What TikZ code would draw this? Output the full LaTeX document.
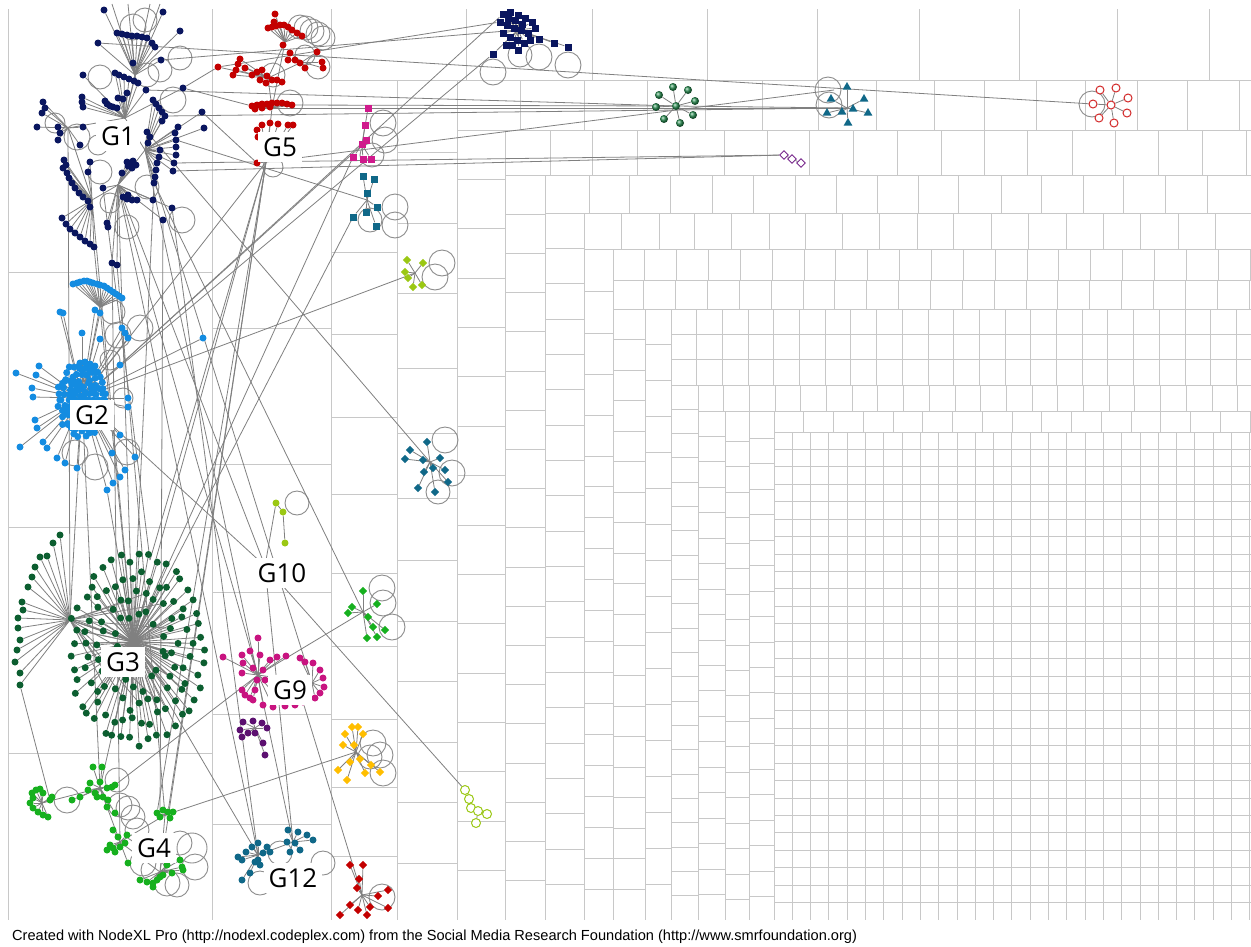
\documentclass[tikz,border=0pt]{standalone}
\usepackage{fontspec}
\newfontfamily\glfont{Open Sans}
\newfontfamily\ftfont{Liberation Sans}
\usetikzlibrary{shapes.geometric}
\definecolor{gridc}{RGB}{200,200,200}
\definecolor{edgec}{RGB}{128,128,128}
\definecolor{loopg}{RGB}{140,140,140}
\definecolor{cNavy}{RGB}{10,22,95}
\definecolor{cRed}{RGB}{195,0,0}
\definecolor{cBlue}{RGB}{20,140,225}
\definecolor{cDkGreen}{RGB}{12,94,48}
\definecolor{cGreen}{RGB}{22,176,30}
\definecolor{cMag}{RGB}{200,20,128}
\definecolor{cPurp}{RGB}{92,16,112}
\definecolor{cTeal}{RGB}{16,104,136}
\definecolor{cLime}{RGB}{155,200,20}
\definecolor{cPink}{RGB}{208,26,140}
\definecolor{cYel}{RGB}{255,190,0}
\definecolor{cSea}{RGB}{40,140,80}
\definecolor{cORed}{RGB}{210,40,40}
\definecolor{cOPurp}{RGB}{120,40,140}
\pgfdeclarelayer{gridl}
\pgfdeclarelayer{edgel}
\pgfsetlayers{gridl,edgel,main}
\tikzset{
  gridln/.style={draw=gridc, line width=1pt},
  lnk/.style={draw=edgec, line width=0.8pt},
  selfl/.style={draw=loopg, line width=0.9pt},
  nd/.style={circle, inner sep=0pt, minimum size=7pt, fill=#1, draw=none},
  sq/.style={rectangle, inner sep=0pt, minimum size=7pt, fill=#1, draw=none},
  dia/.style={diamond, inner sep=0pt, minimum size=8.5pt, fill=#1, draw=none},
  tri/.style={regular polygon, regular polygon sides=3, inner sep=0pt, minimum size=10pt, fill=#1, draw=none},
  odot/.style={circle, inner sep=0pt, minimum size=8pt, draw=#1, line width=1pt, fill=white},
  odia/.style={diamond, inner sep=0pt, minimum size=9pt, draw=#1, line width=0.9pt, fill=white},
  ballnd/.style={circle, inner sep=0pt, minimum size=8pt, ball color=#1},
  glab/.style={fill=white, inner sep=5pt, text=black, font=\glfont\fontsize{26}{26}\selectfont}
}
\newcommand{\fannodes}[3]{\foreach \xq/\yq [count=\iq] in #3 {\node[#1] (#2\iq) at (\xq,\yq) {};}}
\newcommand{\fanedges}[3]{\foreach \xq/\yq [count=\iq] in #3 {\draw[lnk] (#1) -- (#2\iq);}}
% ---- node lists ----
\def\LgOneA{117/33,122/34,127/35,132/36,137/36,142/37,147/38,152/43,155/47,98/43,161/60,133/63,104/10,163/12,180/31}
\def\LgOneB{83/75,115/73,119/75,124/77,129/79,134/81,138/83,146/90,183/88,127/93,118/98,123/99,82/97,82/102,83/107,107/104,110/106,113/107,117/108,105/101}
\def\LgOneC{153/100,156/104,159/108,162/112,165/116,162/121,202/112,204/128,178/127,147/132,150/137,148/143,175/133,176/140,176/147,176/155,174/163,173/171,160/150,159/157,157/163,156/170,155/177,154/183}
\def\LgOneD{43/102,42/113,37/127,58/127,60/133,58/140,80/145,83/127,45/108}
\def\LgOneE{130/163,133/161,127/162,136/165,128/166,132/168,122/173,123/197,127/199,132/200,137/200,128/195,103/188,153/200,172/208,163/220,107/223,108/227,112/263,117/265}
\def\LgOneF{62/218,66/224,70/229,75/233,80/237,85/241,90/244,94/247,67/173,69/178,72/183,75/188,79/193,83/197,88/201,64/160,66/165,63/168,90/162,88/172,90/207}
\def\LgFiveA{268/28,272/27,276/26,280/25,284/25,288/27,292/30,297/33,302/36,283/45,275/14,274/22}
\def\LgFiveB{218/67,233/75,240/59,238/64,236/70,252/75,257/72,262/70,267/76,272/80,277/80,282/82,260/80,266/83,245/68}
\def\LgFiveC{290/53,288/60,295/60,300/63,305/68,317/52,322/62,323/68}
\def\LgFiveD{252/106,257/105,262/104,267/104,272/103,277/103,282/103,287/104,292/105,255/109,262/108,270/107}
\def\LgFiveE{257/130,258/137,257/163,262/125,270/123,278/124,288/125,293/125}
\def\LgTwoA{73/284,77/283,80/282,84/281,87/281,90/282,93/283,97/284,100/285,104/286,107/288,110/290,113/292,116/294,119/296,122/298}
\def\LgTwoC{60/312,63/313,82/333,95/310,100/313,100/339,122/328,125/333,128/338,16/373,39/366,36/375,32/388,33/397,120/365,128/398,128/407,35/420,37/428,20/447,43/442,47/448,57/458,65/463,77/468,112/453,107/490,113/483,120/477,125/470,120/435,135/457,80/363,85/362,90/364,95/366,203/338}
\def\LgThreeA{60/535,53/543,47/556,40/557,35/567,32/577,28/587,22/602,23/610,18/618,18/628,20/640,17/650,15/662,20/673,20/685}
\def\LgFourA{32/793,33/798,30/803,33/808,38/812,43/815,48/817,50/800,52/797,43/793,40/789,36/790}
\def\LgFourB{93/767,102/767,88/790,95/793,100/782,107/788,112/787,115/785,97/797,103/797,108/800,107/807,115/813,80/797,72/800,90/783}
\def\LgFourC{113/830,118/837,127/835,110/845,107/850,113/848,120/847,125/843,128/863,115/852}
\def\LgFourD{157/813,163/810,168/812,173/812,160/817,170/818}
\def\LgFourE{180/860,182/867,183/870,140/880,147/882,153/883,157/880,160/877,163/875,153/887,172/873,167/865}
\def\LgNineA{223/657,258/638,242/655,250/651,260/655,270/660,277/657,286/656,243/663,242/673,242/690,245/695,250/698,253/700,253/668,263/670,257/680,265/680,255/690,263/705,273/707,285/706}
\def\LgNineB{295/705,303/702,305/662,313/663,320/670,323/678,324/687,320/693,315/698,300/658}
\def\LPurp{243/722,253/721,262/723,240/730,248/733,255/733,267/728,263/743,265/755,242/737}
\def\LgTwelveA{238/857,242/860,252/847,258/843,267/847,270/852,258/860,260/865,255/862,263/853,250/873,242/880,246/852}
\def\LgTwelveB{288/830,298/832,307/835,313/840,295/843,290/852,287/842,300/850}
\def\LPk{368/108,365/125,366/140,362/144,353/157,363/159,371/159}
\def\LTs{363/176,374/179,367/193,377/207,366/212,353/217,376/226}
\def\LLd{407/260,423/263,405/272,408/278,413/287,422/285}
\def\LTd{427/442,410/450,405/459,423/460,440/458,433/468,445/470,424/472,418/488,435/492,448/482}
\def\LGd{363/591,352/607,348/613,377/604,368/617,373/627,385/630,377/637,367/638}
\def\LYd{345/734,352/727,358/727,363/734,343/745,354/745,350/762,360/759,371/765,380/772,365/773,338/770,347/780}
\def\LRd{350/865,363/865,359/879,357/888,350/905,358/910,370/907,378/896,388/890,388/908,340/915,367/915}
\def\LNs{503/14,510/12,518/15,525/18,532/22,500/22,507/25,514/28,521/30,528/33,535/28,503/33,510/37,517/40,524/43,530/40,515/20,522/24,508/18,512/45,518/50,539/39,554/43,568/47,493/54,506/45}
\def\LSev{673/87,688/90,695/101,693/115,680/123,664/119,656/107,659/95}
\def\LEig{847/87,831/99,864/99,827/113,842/112,853/109,868/113,848/123}
\def\LOr{1100/90,1116/88,1128/98,1127/113,1114/123,1099/118,1093/104}
\begin{document}
\begin{tikzpicture}[x=1pt,y=-1pt]
\useasboundingbox (0,0) rectangle (1251,946);
% ================= GRID =================
\begin{pgfonlayer}{gridl}
\fill[white] (0,0) rectangle (1251,946);
\begin{scope}
\clip (7,9) rectangle (1251,919.4);
\begin{scope}[gridln]
\draw (8,8) -- (8,920);
\draw (212,8) -- (212,920);
\foreach \yq in {272,527,753} \draw (8,\yq) -- (212,\yq);
\draw (331,8) -- (331,920);
\foreach \yq in {328,464,592,714,824} \draw (212,\yq) -- (331,\yq);
\draw (331,80) -- (1256,80);
\foreach \xq in {466,592,707,817,919,1019,1117,1209} \draw (\xq,8) -- (\xq,80);
\draw (397,80) -- (397,920);
\foreach \yq in {252,334,417,494,573,646,719,787,856} \draw (331,\yq) -- (397,\yq);
\draw (457,80) -- (457,920);
\foreach \yq in {152,223,293,368,433,498,560,621,681,742,802,863} \draw (397,\yq) -- (457,\yq);
\draw (457,130) -- (1256,130);
\foreach \xq in {520,584,647,705,762,818,876,934,984,1036,1085,1137,1187,1239} \draw (\xq,80) -- (\xq,130);
\draw (505,130) -- (505,920);
\foreach \k in {1,...,15} \draw (457,{130+\k*790/16}) -- (505,{130+\k*790/16});
\draw (505,175) -- (1256,175);
\foreach \xq in {550,592,637,679,724,767,809,853,897,941,984,1027,1072,1115,1158,1202,1246} \draw (\xq,130) -- (\xq,175);
\draw (545,175) -- (545,920);
\foreach \k in {1,...,18} \draw (505,{175+\k*745/19}) -- (545,{175+\k*745/19});
\draw (545,213) -- (1256,213);
\foreach \xq in {589,629,670,712,753,795,836,877,918,958,1001,1041,1083,1123,1165,1207} \draw (\xq,175) -- (\xq,213);
\draw (584,213) -- (584,920);
\foreach \k in {1,...,19} \draw (545,{213+\k*707/20}) -- (584,{213+\k*707/20});
\draw (584,249) -- (1256,249);
\foreach \xq in {621,659,694,731,769,805,842,879,917,953,991,1028,1066,1103,1140,1178,1215} \draw (\xq,213) -- (\xq,249);
\draw (613,249) -- (613,920);
\foreach \yq in {291,333,374,415,456} \draw (584,\yq) -- (613,\yq);
\foreach \k in {1,...,14} \draw (584,{456+\k*464/15}) -- (613,{456+\k*464/15});
\draw (613,280) -- (1256,280);
\draw (613,309) -- (1256,309);
\foreach \k in {1,...,20} \draw ({613+\k*31.85},249) -- ({613+\k*31.85},280);
\foreach \k in {1,...,20} \draw ({612+\k*31.85},280) -- ({612+\k*31.85},309);
\draw (645,309) -- (645,920);
\foreach \k in {1,...,19} \draw (613,{309+\k*611/20}) -- (645,{309+\k*611/20});
\draw (671,309) -- (671,920);
\foreach \k in {1,...,16} \draw (645,{309+\k*611/17}) -- (671,{309+\k*611/17});
\foreach \yq in {334,359,385} \draw (671,\yq) -- (1256,\yq);
\foreach \k in {1,...,23} \draw ({671+\k*25.7},309) -- ({671+\k*25.7},385);
\draw (698,385) -- (698,920);
\foreach \k in {1,...,21} \draw (671,{385+\k*535/22}) -- (698,{385+\k*535/22});
\draw (698,411) -- (1256,411);
\foreach \k in {1,...,22} \draw ({698+\k*25.7},385) -- ({698+\k*25.7},411);
\draw (725,411) -- (725,920);
\draw (749,411) -- (749,920);
\draw (774,411) -- (774,920);
\foreach \k in {1,...,19} \draw (698,{411+\k*25.45}) -- (725,{411+\k*25.45});
\foreach \k in {1,...,19} \draw (725,{416+\k*25.45}) -- (749,{416+\k*25.45});
\foreach \k in {1,...,19} \draw (749,{413+\k*25.45}) -- (774,{413+\k*25.45});
\draw (774,432) -- (1256,432);
\foreach \k in {1,...,16} \draw ({774+\k*29.75},411) -- ({774+\k*29.75},432);
\foreach \k in {1,...,26} \draw ({774+\k*18.3},432) -- ({774+\k*18.3},920);
\foreach \k in {1,...,27} \draw (774,{432+\k*17.43}) -- (1256,{432+\k*17.43});
\end{scope}
\end{scope}
\end{pgfonlayer}
% ================= HUBS =================
\coordinate (g1hA) at (135,75);
\coordinate (g1hB) at (125,118);
\coordinate (g1hC) at (145,150);
\coordinate (g1hD) at (68,128);
\coordinate (g1hE) at (118,185);
\coordinate (g1hF) at (92,200);
\coordinate (g5h1) at (285,42);
\coordinate (g5h2) at (268,78);
\coordinate (g5h3) at (302,62);
\coordinate (g5h4) at (272,108);
\coordinate (g5h5) at (266,162);
\coordinate (g2h1) at (100,307);
\coordinate (g2h) at (82,398);
\coordinate (g3hL) at (70,620);
\coordinate (g3hM) at (133,642);
\coordinate (g3top) at (150,560);
\coordinate (g4h1) at (42,803);
\coordinate (g4h2) at (100,788);
\coordinate (g4h3) at (120,842);
\coordinate (g4h4) at (165,815);
\coordinate (g4h5) at (160,872);
\coordinate (g9h) at (258,675);
\coordinate (g9h2) at (312,683);
\coordinate (pph) at (255,728);
\coordinate (g12h) at (258,855);
\coordinate (g12h2) at (293,842);
\coordinate (g10x) at (265,566);
\coordinate (pkh) at (362,145);
\coordinate (tsh) at (367,200);
\coordinate (ldh) at (415,273);
\coordinate (tdh) at (430,462);
\coordinate (gdh) at (363,612);
\coordinate (ydh) at (356,752);
\coordinate (rdh) at (362,895);
\coordinate (nsh) at (518,30);
\coordinate (g8h) at (847,108);
\coordinate (g8l) at (834,90);
\coordinate (t1) at (112,4);
\coordinate (t2) at (128,4);
\coordinate (t3) at (150,4);
\coordinate (t4) at (160,4);
% ================= NODES =================
\fannodes{nd=cNavy}{g1a}{\LgOneA}
\fannodes{nd=cNavy}{g1b}{\LgOneB}
\fannodes{nd=cNavy}{g1c}{\LgOneC}
\fannodes{nd=cNavy}{g1d}{\LgOneD}
\fannodes{nd=cNavy}{g1e}{\LgOneE}
\fannodes{nd=cNavy}{g1f}{\LgOneF}
\fannodes{nd=cRed}{g5a}{\LgFiveA}
\fannodes{nd=cRed}{g5b}{\LgFiveB}
\fannodes{nd=cRed}{g5c}{\LgFiveC}
\fannodes{nd=cRed}{g5d}{\LgFiveD}
\fannodes{nd=cRed}{g5e}{\LgFiveE}
\fannodes{nd=cBlue}{g2a}{\LgTwoA}
\fannodes{nd=cBlue}{g2c}{\LgTwoC}
\pgfmathsetseed{1717}
\foreach \rq/\st in {3/60,7/30,11/20,15/15,19/12,23/10}{
  \foreach \aq in {0,\st,...,359}{
    \pgfmathsetmacro{\jr}{\rq+2.5*rand}
    \node[nd=cBlue] (g2b\rq-\aq) at ({82+\jr*cos(\aq)},{400+1.5*\jr*sin(\aq)}) {};
  }}
\fannodes{nd=cDkGreen}{g3a}{\LgThreeA}
\pgfmathsetseed{4242}
\foreach \rx/\ry/\st/\off in {66/92/8/0,52/74/10/5,38/56/14/3,24/38/22/10}{
  \foreach \aq in {0,\st,...,359}{
    \pgfmathsetmacro{\jx}{\rx+5*rand}
    \pgfmathsetmacro{\jy}{\ry+6*rand}
    \node[nd=cDkGreen] (g3r\rx-\aq) at ({137+\jx*cos(\aq+\off)},{650+\jy*sin(\aq+\off)}) {};
  }}
\fannodes{nd=cGreen}{g4a}{\LgFourA}
\fannodes{nd=cGreen}{g4b}{\LgFourB}
\fannodes{nd=cGreen}{g4c}{\LgFourC}
\fannodes{nd=cGreen}{g4d}{\LgFourD}
\fannodes{nd=cGreen}{g4e}{\LgFourE}
\fannodes{nd=cMag}{g9a}{\LgNineA}
\fannodes{nd=cMag}{g9b}{\LgNineB}
\fannodes{nd=cPurp}{ppa}{\LPurp}
\fannodes{nd=cTeal}{g12a}{\LgTwelveA}
\fannodes{nd=cTeal}{g12b}{\LgTwelveB}
\node[nd=cLime] (g10a) at (276,503) {};
\node[nd=cLime] (g10h) at (283,512) {};
\node[nd=cLime] (g10b) at (285,543) {};
\fannodes{sq=cPink}{pk}{\LPk}
\fannodes{sq=cTeal}{ts}{\LTs}
\fannodes{dia=cLime}{ld}{\LLd}
\fannodes{dia=cTeal}{td}{\LTd}
\fannodes{dia=cGreen}{gd}{\LGd}
\fannodes{dia=cYel}{yd}{\LYd}
\fannodes{dia=cRed}{rd}{\LRd}
\fannodes{sq=cNavy}{ns}{\LNs}
\fannodes{ballnd=cSea}{g7}{\LSev}
\node[ballnd=cSea] (g7c) at (676,106) {};
\fannodes{tri=cTeal}{g8}{\LEig}
\node[odot=cORed] (orh) at (1111,105) {};
\fannodes{odot=cORed}{or}{\LOr}
\node[odia=cOPurp] (pd1) at (784,155) {};
\node[odia=cOPurp] (pd2) at (792,159) {};
\node[odia=cOPurp] (pd3) at (801,163) {};
\node[odot=cLime, minimum size=9pt] (lc1) at (465,790) {};
\node[odot=cLime, minimum size=9pt] (lc2) at (469,799) {};
\node[odot=cLime, minimum size=9pt] (lc3) at (471,808) {};
\node[odot=cLime, minimum size=9pt] (lc4) at (478,811) {};
\node[odot=cLime, minimum size=9pt] (lc5) at (487,814) {};
\node[odot=cLime, minimum size=9pt] (lc6) at (476,823) {};
% ================= EDGES (one layer block) =================
\begin{pgfonlayer}{edgel}
\foreach \xq/\yq/\rq in {133/27/13,180/58/12,100/77/12,173/100/13,55/123/10,77/137/13,100/172/12,147/75/12,147/187/12,110/203/10,127/227/12,182/220/13,160/70/12,145/20/12,98/145/10,
  300/27/12,306/28/12,312/31/12,318/34/12,323/38/12,273/75/12,290/103/13,318/67/12,273/167/10,305/55/10,
  113/312/12,118/335/13,140/328/13,123/398/10,75/453/13,95/467/13,127/452/13,110/360/10,
  67/800/13,117/780/12,120/805/12,128/808/12,133/817/12,143/863/13,167/883/13,192/848/15,195/867/13,180/843/12,153/870/12,177/885/12,137/830/12,
  260/883/12,280/853/12,323/863/12,297/503/12,
  383/123/13,385/140/13,372/155/12,395/207/13,395/225/13,370/220/12,442/263/13,435/277/13,445/440/13,452/473/13,438/492/12,
  382/588/13,383/603/13,392/627/13,373/743/13,380/755/13,383/773/13,370/757/12,382/897/13,
  493/72/13,520/55/12,539/57/13,568/65/13,828/90/13,829/105/13,1092/104/13}
  {\draw[selfl] (\xq,\yq) circle[radius=\rq pt];}
\foreach \aq/\bq in {g1hA/g1hB,g1hB/g1hC,g1hB/g1hD,g1hC/g1hE,g1hE/g1hF,g1hA/t1,g1hA/t2,g1hA/t3,g1hA/t4,g1hD/g1hF,
  g5h1/g5h4,g5h2/g5h4,g5h3/g5h2,g5h4/g5h5,g5h1/g5h2,g2h1/g2h,g3hL/g3hM,
  g4h1/g4h2,g4h2/g4h3,g4h3/g4h4,g4h3/g4h5,g4h4/g4h5,g9h/g9h2,g12h/g12h2}
  \draw[lnk] (\aq) -- (\bq);
\fanedges{g1hA}{g1a}{\LgOneA}
\fanedges{g1hB}{g1b}{\LgOneB}
\fanedges{g1hC}{g1c}{\LgOneC}
\fanedges{g1hD}{g1d}{\LgOneD}
\fanedges{g1hE}{g1e}{\LgOneE}
\fanedges{g1hF}{g1f}{\LgOneF}
\fanedges{g5h1}{g5a}{\LgFiveA}
\fanedges{g5h2}{g5b}{\LgFiveB}
\fanedges{g5h3}{g5c}{\LgFiveC}
\fanedges{g5h4}{g5d}{\LgFiveD}
\fanedges{g5h5}{g5e}{\LgFiveE}
\fanedges{g2h1}{g2a}{\LgTwoA}
\fanedges{g2h}{g2c}{\LgTwoC}
\fanedges{g3hL}{g3a}{\LgThreeA}
\foreach \rx/\ry/\st/\off in {66/92/8/0,52/74/10/5,38/56/14/3,24/38/22/10}{
  \foreach \aq in {0,\st,...,359}{\draw[lnk] (g3hM) -- (g3r\rx-\aq);}}
\foreach \aq in {0,28,...,359}{\draw[lnk] (g3hL) -- (g3r38-\aq);}
\fanedges{g4h1}{g4a}{\LgFourA}
\fanedges{g4h2}{g4b}{\LgFourB}
\fanedges{g4h3}{g4c}{\LgFourC}
\fanedges{g4h4}{g4d}{\LgFourD}
\fanedges{g4h5}{g4e}{\LgFourE}
\fanedges{g9h}{g9a}{\LgNineA}
\fanedges{g9h2}{g9b}{\LgNineB}
\fanedges{pph}{ppa}{\LPurp}
\fanedges{g12h}{g12a}{\LgTwelveA}
\fanedges{g12h2}{g12b}{\LgTwelveB}
\draw[lnk] (g10a) -- (g10h) -- (g10b);
\draw[lnk] (g10a) -- (g10x);
\fanedges{pkh}{pk}{\LPk}
\fanedges{tsh}{ts}{\LTs}
\fanedges{ldh}{ld}{\LLd}
\fanedges{tdh}{td}{\LTd}
\fanedges{gdh}{gd}{\LGd}
\fanedges{ydh}{yd}{\LYd}
\fanedges{rdh}{rd}{\LRd}
\fanedges{nsh}{ns}{\LNs}
\fanedges{g7c}{g7}{\LSev}
\fanedges{g8h}{g8}{\LEig}
\fanedges{orh}{or}{\LOr}
\draw[lnk] (pd1) -- (pd2) -- (pd3);
\draw[lnk] (lc1) -- (lc2) -- (lc3) -- (lc4) -- (lc5);
\draw[lnk] (lc4) -- (lc6);
\foreach \aq/\bq in {g1a10/or7,g1b8/g7c,g1c5/g8h,g5h4/g8h,g5h5/g8l,g1c18/pd1,g1a11/nsh,g5b1/ns6,g2c15/ns1,g2h/ns25,g1c14/tsh,g2c15/pkh,g2h/ldh,g1c10/tdh,g1hE/g10x,g1hE/g12h,g1hC/g12h2,g1c24/gdh,g1hE/g9h,g10x/g12h2,g10x/lc1,g9b2/rdh,g4h4/ydh,g4b8/g9h,g9h/gdh,g3a16/g4a8,g3hM/g4h2,g1hE/g3hM,g1hF/g3hM,g1hD/g3hL,g1e20/g4h4,g1e19/g4h3,g5h5/g4d3,g5h5/g4d1,g5h5/g4h5,g5h5/g3hM,g5h5/g2h,g5h5/g3top,g3hM/pk5,g3hM/ts6,g2h/g3hL,g2h/g4h2,g2h/g10x,g1b9/g5b1,g1c7/g5e3,g12h/g3hM,g1hC/g9h2,g1c17/pd1,g1e15/g12h,g1b9/g5d1,g5d9/g7c,g7c/g8h,g1c24/g3hM,g1e16/g4d5,g1e13/g3top,g1f8/g3hM,g2c27/g3hM}
  \draw[lnk] (\aq) -- (\bq);
\end{pgfonlayer}
% ================= LABELS =================
\node[glab] (lg1) at (118,136) {G1};
\node[glab] (lg5) at (280,147) {G5};
\node[glab] (lg2) at (92,415) {G2};
\node[glab] (lg3) at (123,662) {G3};
\node[glab] (lg4) at (154,848) {G4};
\node[glab] (lg9) at (290,690) {G9};
\node[glab] (lg10) at (282,573) {G10};
\node[glab] (lg12) at (293,878) {G12};
\node[anchor=base west, inner sep=0pt, font=\ftfont\fontsize{14.6}{17}\selectfont] (foot) at (12,940) {Created with NodeXL Pro (http://nodexl.codeplex.com) from the Social Media Research Foundation (http://www.smrfoundation.org)};
\end{tikzpicture}
\end{document}
